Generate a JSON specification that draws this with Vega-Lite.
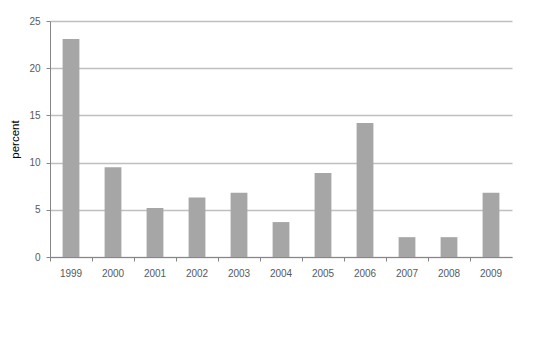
{
  "$schema": "https://vega.github.io/schema/vega-lite/v6.json",
  "autosize": "none",
  "width": 462,
  "height": 236,
  "padding": {"left": 50, "top": 21, "right": 45, "bottom": 99},
  "background": "white",
  "config": {
    "view": {"stroke": null},
    "font": "Liberation Sans"
  },
  "data": {
    "values": [
      {"year": "1999", "percent": 23.1},
      {"year": "2000", "percent": 9.5},
      {"year": "2001", "percent": 5.2},
      {"year": "2002", "percent": 6.3},
      {"year": "2003", "percent": 6.8},
      {"year": "2004", "percent": 3.7},
      {"year": "2005", "percent": 8.9},
      {"year": "2006", "percent": 14.2},
      {"year": "2007", "percent": 2.1},
      {"year": "2008", "percent": 2.1},
      {"year": "2009", "percent": 6.8}
    ]
  },
  "mark": {"type": "bar", "color": "#a6a6a6", "width": {"band": 0.4}},
  "encoding": {
    "x": {
      "field": "year",
      "type": "ordinal",
      "scale": {"paddingInner": 0, "paddingOuter": 0},
      "axis": {
        "title": null,
        "labelAngle": 0,
        "labelFont": "Liberation Sans",
        "labelFontSize": 10,
        "labelColor": "#595959",
        "labelPadding": 7,
        "bandPosition": 0,
        "tickSize": 4,
        "tickColor": "#868686",
        "domainColor": "#868686",
        "grid": false
      }
    },
    "y": {
      "field": "percent",
      "type": "quantitative",
      "scale": {"domain": [0, 25], "nice": false},
      "axis": {
        "title": "percent",
        "titleFont": "Liberation Sans",
        "titleFontSize": 11.5,
        "titleFontWeight": "normal",
        "titleColor": "#000000",
        "titlePadding": 8,
        "values": [0, 5, 10, 15, 20, 25],
        "labelFont": "Liberation Sans",
        "labelFontSize": 10,
        "labelColor": "#595959",
        "labelPadding": 6,
        "tickSize": 4,
        "tickColor": "#868686",
        "domainColor": "#868686",
        "gridColor": "#bfbfbf",
        "gridWidth": 1.3
      }
    }
  }
}
